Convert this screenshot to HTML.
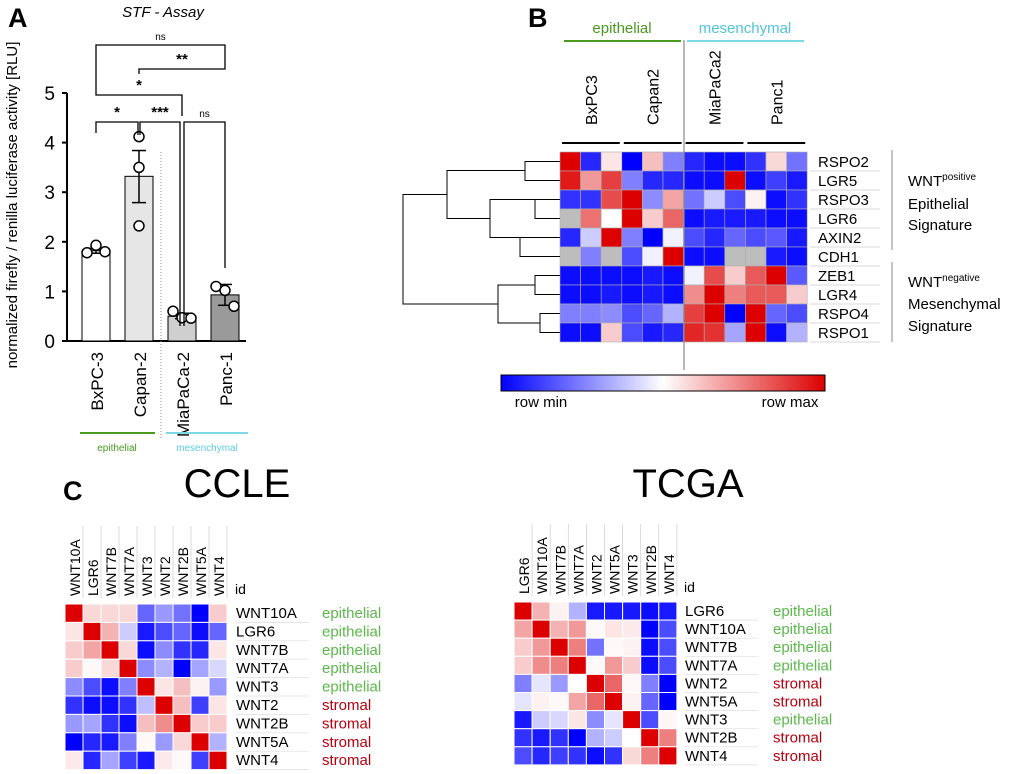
<!DOCTYPE html>
<html><head><meta charset="utf-8"><style>
body{margin:0;background:#fff}
svg{display:block;font-family:"Liberation Sans",Arial,sans-serif}
</style></head><body>
<svg id="fig" width="1020" height="774" viewBox="0 0 1020 774" xmlns="http://www.w3.org/2000/svg">
<text x="8" y="27" font-size="27" font-weight="bold">A</text>
<text x="163" y="17" font-size="15" font-style="italic" text-anchor="middle">STF - Assay</text>
<text transform="translate(17,205) rotate(-90)" font-size="15" text-anchor="middle">normalized firefly / renilla luciferase activity [RLU]</text>
<g id="barA"></g>
<text x="528" y="27" font-size="27" font-weight="bold">B</text>
<g id="heatB"></g>
<text x="63" y="500" font-size="27" font-weight="bold">C</text>
<text x="237" y="497" font-size="40" text-anchor="middle">CCLE</text>
<text x="688" y="497" font-size="40" text-anchor="middle">TCGA</text>
<g id="heatC1"></g>
<g id="heatC2"></g>
</svg>
<script>
const NS="http://www.w3.org/2000/svg";
function mk(p,t,a,txt){const e=document.createElementNS(NS,t);for(const k in a)e.setAttribute(k,a[k]);if(txt!==undefined)e.textContent=txt;p.appendChild(e);return e;}
function col(v){if(v===null)return"#bdbdbd";if(v>=0){const r=255-34*v,g=255*(1-v),b=255*(1-v);return`rgb(${r|0},${g|0},${b|0})`;}const t=-v;return`rgb(${255*(1-t)|0},${255*(1-t)|0},255)`;}

// Panel A data
const cellLines=["BxPC-3","Capan-2","MiaPaCa-2","Panc-1"];
const means=[1.82,3.32,0.5,0.93];
const errLo=[1.77,2.79,0.45,0.72];
const errHi=[1.87,3.84,0.56,1.14];
const points=[[1.78,1.93,1.8],[4.12,3.5,2.32],[0.6,0.47,0.46],[1.1,1.02,0.7]];
const barFills=["#ffffff","#e6e6e6","#cfcfcf","#9a9a9a"];
const yTicks=[0,1,2,3,4,5];

const A=document.getElementById("barA");
const yA=v=>341-v*49.6, xA=i=>96+i*43;
mk(A,"line",{x1:67,y1:93,x2:67,y2:341,stroke:"#000","stroke-width":2});
mk(A,"line",{x1:66,y1:341,x2:246,y2:341,stroke:"#000","stroke-width":2});
yTicks.forEach(t=>{mk(A,"line",{x1:62,y1:yA(t),x2:67,y2:yA(t),stroke:"#000","stroke-width":2});
 const e=mk(A,"text",{x:55,y:yA(t)+7,"font-size":19,"text-anchor":"end"},t);});
mk(A,"line",{x1:161,y1:152,x2:161,y2:440,stroke:"#888","stroke-width":1,"stroke-dasharray":"1,2"});
cellLines.forEach((c,i)=>{
 const x=xA(i);
 const b=mk(A,"rect",{x:x-14,y:yA(means[i]),width:28,height:341-yA(means[i]),fill:barFills[i],stroke:"#000","stroke-width":1});
 
 mk(A,"line",{x1:x,y1:yA(errLo[i]),x2:x,y2:yA(errHi[i]),stroke:"#000","stroke-width":1.5});
 [errLo[i],errHi[i]].forEach(v=>mk(A,"line",{x1:x-7,y1:yA(v),x2:x+7,y2:yA(v),stroke:"#000","stroke-width":1.5}));
 points[i].forEach((v,j)=>{const p=mk(A,"circle",{cx:x+(j-1)*9*(i==1?0:1),cy:yA(v),r:5,fill:"#fff",stroke:"#000","stroke-width":1.5});});
 const t=mk(A,"text",{transform:`translate(${x+7},${352}) rotate(-90)`,"font-size":17,"text-anchor":"end"},c);
 
});
function br(x1,x2,y,yl,yr,lab,fs){mk(A,"path",{d:`M${x1},${yl}V${y}H${x2}V${yr}`,fill:"none",stroke:"#000","stroke-width":1.3});
 const t=mk(A,"text",{x:(x1+x2)/2,y:y-5,"font-size":fs,"text-anchor":"middle","font-weight":lab=="ns"?"normal":"bold"},lab);}
br(96,225,45,88,56,"ns",10);
br(139,225,69,74,56,"**",15);
br(96,182,95,88,116,"*",15);
br(96,138,122,133,135,"*",15);
br(140,180,122,135,326,"***",15);
br(184,225,122,326,268,"ns",10);
mk(A,"line",{x1:80,y1:433,x2:155,y2:433,stroke:"#4a9a1e","stroke-width":2});
mk(A,"line",{x1:166,y1:433,x2:248,y2:433,stroke:"#7fd8e6","stroke-width":2});
mk(A,"text",{x:117,y:451,"font-size":10,fill:"#4a9a1e","text-anchor":"middle"},"epithelial");
mk(A,"text",{x:207,y:451,"font-size":10,fill:"#5ccbe0","text-anchor":"middle"},"mesenchymal");

// Panel B data
const genesB=["RSPO2","LGR5","RSPO3","LGR6","AXIN2","CDH1","ZEB1","LGR4","RSPO4","RSPO1"];
const samplesB=["BxPC3","Capan2","MiaPaCa2","Panc1"];
const valuesB=[
[1,-0.85,0.1,-1,0.25,-0.5,-0.85,-0.95,-0.95,-0.8,0.15,-0.55],
[0.9,0.4,0.75,-0.5,-0.85,-0.85,-0.95,-0.95,1,-0.95,-0.75,-0.9],
[-0.8,-0.8,0.7,1,-0.45,0.35,-0.55,-0.2,-0.7,0.05,-0.95,-0.8],
[null,0.55,0,1,0.2,0.6,-0.95,-0.9,-0.9,-0.9,-0.95,-0.95],
[-0.85,-0.2,1,-0.5,-1,-0.05,-0.7,-0.85,-0.6,-0.7,-0.65,-0.9],
[null,-0.5,null,-0.7,-0.05,1,-0.95,-0.95,null,null,-0.9,-0.95],
[-0.95,-0.95,-0.95,-0.95,-0.9,-0.95,-0.05,0.7,0.2,0.65,1,-0.65],
[-0.95,-0.95,-0.9,-0.95,-0.9,-0.95,0.45,1,0.5,0.65,0.65,0.2],
[-0.5,-0.5,-0.45,-0.7,-0.6,-0.3,0.75,1,-1,1,-0.6,-0.7],
[-0.95,-0.95,0.2,-0.7,-0.9,-0.85,0.85,0.8,-0.35,1,-0.95,-0.3]];
const B=document.getElementById("heatB");
const bx0=560,by0=152,bw=20.6,bh=19;
valuesB.forEach((row,r)=>row.forEach((v,c)=>{const e=mk(B,"rect",{x:bx0+c*bw,y:by0+r*bh,width:bw,height:bh,fill:col(v),stroke:"#b0b0b0","stroke-width":0.6});}));
genesB.forEach((g,r)=>{const t=mk(B,"text",{x:818,y:by0+r*bh+15,"font-size":15},g);
 mk(B,"line",{x1:810,y1:by0+(r+1)*bh,x2:880,y2:by0+(r+1)*bh,stroke:"#ccc","stroke-width":0.7});});
mk(B,"line",{x1:684,y1:40,x2:684,y2:370,stroke:"#888","stroke-width":1.2});
samplesB.forEach((s,i)=>{const cx=bx0+(i*3+1.5)*bw;
 mk(B,"line",{x1:bx0+i*3*bw+2,y1:143,x2:bx0+(i+1)*3*bw-2,y2:143,stroke:"#000","stroke-width":2});
 const t=mk(B,"text",{transform:`translate(${cx+6},125) rotate(-90)`,"font-size":16},s);});
mk(B,"line",{x1:564,y1:41,x2:681,y2:41,stroke:"#4a9a1e","stroke-width":2});
mk(B,"line",{x1:687,y1:41,x2:804,y2:41,stroke:"#7fd8e6","stroke-width":2});
mk(B,"text",{x:622,y:33,"font-size":15,fill:"#4a9a1e","text-anchor":"middle"},"epithelial");
mk(B,"text",{x:745,y:33,"font-size":15,fill:"#4fc4da","text-anchor":"middle"},"mesenchymal");
// dendrogram
const yc=i=>by0+(i+0.5)*bh;
const dg=[[yc(0),yc(1),525,560,560],[yc(2),yc(3),535,560,560],[yc(4),yc(5),520,560,560],[yc(2.5)-9.5,yc(4.5)-9.5,490,535,520],
[170.5,(yc(2.5)-9.5+yc(4.5)-9.5)/2,447,525,490],[yc(6),yc(7),535,560,560],[yc(8),yc(9),540,560,560],[285,323,498,535,540],[(170.5+(yc(2.5)-9.5+yc(4.5)-9.5)/2)/2,304,403,447,498]];
dg.forEach(d=>mk(B,"path",{d:`M${d[3]},${d[0]}H${d[2]}V${d[1]}H${d[4]}`,fill:"none",stroke:"#000","stroke-width":1}));
mk(B,"line",{x1:892,y1:150,x2:892,y2:250,stroke:"#888"});
mk(B,"line",{x1:892,y1:262,x2:892,y2:342,stroke:"#888"});
mk(B,"text",{x:908,y:186,"font-size":15},"WNT").appendChild(Object.assign(document.createElementNS(NS,"tspan"),{textContent:"positive"}));
B.lastChild.lastChild.setAttribute("font-size","10");B.lastChild.lastChild.setAttribute("dy","-6");
mk(B,"text",{x:908,y:209,"font-size":15},"Epithelial");
mk(B,"text",{x:908,y:230,"font-size":15},"Signature");
mk(B,"text",{x:908,y:287,"font-size":15},"WNT").appendChild(Object.assign(document.createElementNS(NS,"tspan"),{textContent:"negative"}));
B.lastChild.lastChild.setAttribute("font-size","10");B.lastChild.lastChild.setAttribute("dy","-6");
mk(B,"text",{x:908,y:309,"font-size":15},"Mesenchymal");
mk(B,"text",{x:908,y:331,"font-size":15},"Signature");
const defs=mk(B,"defs",{});const lg=mk(defs,"linearGradient",{id:"cb"});
mk(lg,"stop",{offset:"0","stop-color":"#0000ff"});mk(lg,"stop",{offset:"0.5","stop-color":"#fff"});mk(lg,"stop",{offset:"1","stop-color":"#dd0000"});
const cbar=mk(B,"rect",{x:501,y:375,width:324,height:16,fill:"url(#cb)",stroke:"#000","stroke-width":1});

mk(B,"text",{x:541,y:407,"font-size":15,"text-anchor":"middle"},"row min");
mk(B,"text",{x:790,y:407,"font-size":15,"text-anchor":"middle"},"row max");

// Panel C data
const ccleCols=["WNT10A","LGR6","WNT7B","WNT7A","WNT3","WNT2","WNT2B","WNT5A","WNT4"];
const ccleRows=["WNT10A","LGR6","WNT7B","WNT7A","WNT3","WNT2","WNT2B","WNT5A","WNT4"];
const ccleCats=["epithelial","epithelial","epithelial","epithelial","epithelial","stromal","stromal","stromal","stromal"];
const ccleVals=[
[1,0.15,0.15,0.15,-0.6,-0.4,-0.55,-1,0.2],
[0.1,1,0.3,-0.2,-0.9,-0.7,-0.6,-0.95,-0.6],
[0.2,0.35,1,0.15,-0.95,-0.45,-0.8,-0.85,0.1],
[0.2,0.02,0.15,1,-0.45,-0.3,-1,-0.35,-0.15],
[-0.45,-0.7,-0.95,-0.5,1,0.1,0.25,0.05,-0.4],
[-0.8,-0.95,-0.95,-0.8,-0.25,1,0.25,-0.75,0.1],
[-0.4,-0.35,-0.8,-0.95,0.25,0.45,1,0.2,0.2],
[-1,-0.85,-0.9,-0.5,0.02,-0.4,0.15,1,-0.3],
[0.08,-0.85,-0.35,-0.75,-0.9,0.08,0.02,-0.75,1]];
const tcgaCols=["LGR6","WNT10A","WNT7B","WNT7A","WNT2","WNT5A","WNT3","WNT2B","WNT4"];
const tcgaRows=["LGR6","WNT10A","WNT7B","WNT7A","WNT2","WNT5A","WNT3","WNT2B","WNT4"];
const tcgaCats=["epithelial","epithelial","epithelial","epithelial","stromal","stromal","epithelial","stromal","stromal"];
const tcgaVals=[
[1,0.3,0.05,-0.3,-0.9,-0.9,-0.9,-0.95,-0.9],
[0.35,1,0.3,0.4,0.02,0.1,0.08,-1,-0.7],
[0.2,0.4,1,0.5,-0.55,0.02,0.05,-0.95,-0.7],
[0.2,0.45,0.5,1,0.02,0.4,0.2,-0.95,-0.7],
[-0.5,-0.1,-0.4,0,1,0.6,0.03,-0.5,-1],
[-0.1,0.05,0.02,0.35,0.6,1,0.05,-0.6,-1],
[-0.9,-0.2,-0.15,0.1,-0.45,-0.1,1,-0.7,0.03],
[-0.8,-0.9,-0.8,-1,-0.3,-0.2,0,1,0.5],
[-0.7,-0.85,-0.75,-0.8,-0.95,-0.8,0.15,0.5,1]];
function heat(g,cols,rows,cats,vals,x0,y0,cw,ch,lx,cx,epiCol){
 vals.forEach((row,r)=>row.forEach((v,c)=>{const e=mk(g,"rect",{x:x0+c*cw,y:y0+r*ch,width:cw,height:ch,fill:col(v),stroke:"#fff","stroke-width":1});}));
 cols.forEach((n,c)=>{const t=mk(g,"text",{transform:`translate(${x0+c*cw+cw/2+6},${y0-8}) rotate(-90)`,"font-size":14},n);
  mk(g,"line",{x1:x0+c*cw+cw,y1:y0-78,x2:x0+c*cw+cw,y2:y0-6,stroke:"#ccc","stroke-width":0.7});});
 mk(g,"text",{x:lx-1,y:y0-10,"font-size":14},"id");
 rows.forEach((n,r)=>{const t=mk(g,"text",{x:lx,y:y0+r*ch+14,"font-size":15},n);
  mk(g,"line",{x1:lx,y1:y0+(r+1)*ch,x2:lx+73,y2:y0+(r+1)*ch,stroke:"#ddd","stroke-width":0.7});
  const k=mk(g,"text",{x:cx,y:y0+r*ch+14,"font-size":15,fill:cats[r]=="stromal"?"#b3000f":epiCol},cats[r]);});
}
heat(document.getElementById("heatC1"),ccleCols,ccleRows,ccleCats,ccleVals,65,604,18,18.4,236,322,"#5cb84c");
heat(document.getElementById("heatC2"),tcgaCols,tcgaRows,tcgaCats,tcgaVals,514,602,18.1,18.1,685,773,"#5cb84c");
</script>
</body></html>
